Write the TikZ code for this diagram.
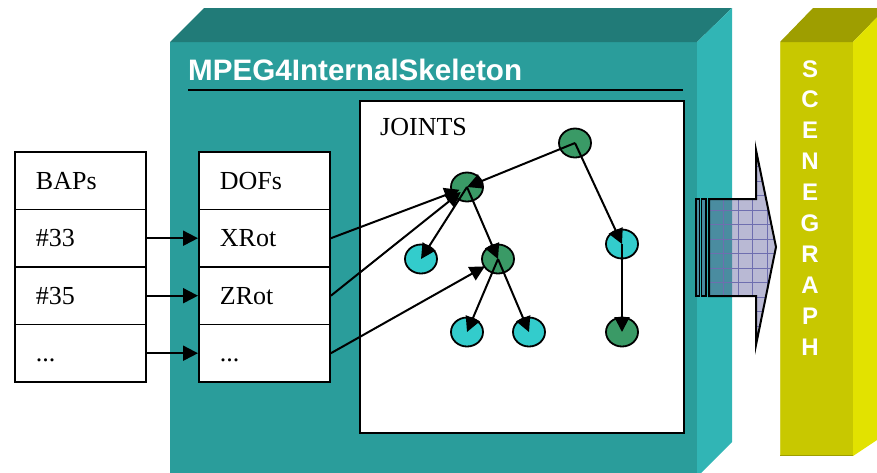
\documentclass[tikz,border=0pt]{standalone}
\usepackage{fontspec}
\setmainfont{Liberation Serif}
\setsansfont{Liberation Sans}
\usetikzlibrary{arrows.meta,shapes.geometric}

\definecolor{tealfront}{RGB}{42,157,155}
\definecolor{tealtop}{RGB}{33,123,120}
\definecolor{tealside}{RGB}{49,181,181}
\definecolor{yelfront}{RGB}{200,200,0}
\definecolor{yeltop}{RGB}{158,158,0}
\definecolor{yelside}{RGB}{226,226,0}
\definecolor{jointgreen}{RGB}{58,154,102}
\definecolor{jointcyan}{RGB}{51,204,204}
\definecolor{arrowlav}{RGB}{185,185,212}
\definecolor{arrowmix}{RGB}{74,140,160}
\definecolor{gridline}{RGB}{110,110,175}

\begin{document}
\begin{tikzpicture}[x=1pt,y=-1pt,
  cell/.style={draw=black, line width=1.9pt, fill=white,
    minimum width=131pt, minimum height=57.5pt,
    text width=89pt, inner xsep=21pt, inner ysep=0pt, align=left,
    text height=17.5pt, text depth=0pt,
    font=\fontsize{26}{30}\selectfont, anchor=north west},
  joint/.style={ellipse, draw=black, line width=1.8pt,
    minimum width=32pt, minimum height=29pt, inner sep=0pt},
  jgreen/.style={joint, fill=jointgreen},
  jcyan/.style={joint, fill=jointcyan},
  link/.style={-{Triangle[length=15pt,width=15pt]}, line width=2pt},
  sceneletter/.style={text=white, inner sep=0pt, anchor=base,
    font=\sffamily\bfseries\fontsize{24}{28}\selectfont}
]
\useasboundingbox (0,0) rectangle (877,472);
\clip (0,0) rectangle (877,472);

% skeleton block (teal box)
\fill[tealfront] (170,42) rectangle (697,480);
\fill[tealtop] (170,42) -- (204,8) -- (732,8) -- (697,42) -- cycle;
\fill[tealside] (697,42) -- (732,8) -- (732,442) -- (697,477) -- cycle;

% scene graph block (yellow box)
\fill[yelfront] (780,42) rectangle (853,456);
\fill[yeltop] (780,42) -- (813,8) -- (886,8) -- (853,42) -- cycle;
\fill[yelside] (853,42) -- (886,8) -- (886,434) -- (853,456) -- cycle;
\draw[yelfront!80!white, line width=1.2pt] (780.6,42) -- (780.6,456);
\draw[yeltop, line width=1.2pt] (780,455.4) -- (853,455.4);

% output arrow into the scene graph
\fill[arrowlav] (709,199) -- (756,199) -- (756,150) -- (776,247) -- (756,345) -- (756,296) -- (709,296) -- cycle;
\begin{scope}
  \clip (700,0) rectangle (732,472);
  \fill[arrowmix] (709,199) rectangle (756,296);
\end{scope}
\begin{scope}
  \clip (709,199) -- (756,199) -- (756,150) -- (776,247) -- (756,345) -- (756,296) -- (709,296) -- cycle;
  \foreach \gx in {723.5,738,752.5,767}
    \draw[gridline, line width=0.6pt] (\gx,140) -- (\gx,350);
  \foreach \gk in {-4,...,9}
    \draw[gridline, line width=0.6pt] (700,{210+14.5*\gk}) -- (780,{210+14.5*\gk});
\end{scope}
\draw[line width=2pt, line join=miter] (709,199) -- (756,199) -- (756,150) -- (776,247) -- (756,345) -- (756,296) -- (709,296) -- cycle;
\draw[fill=arrowmix, line width=1.7pt] (696,199) rectangle (699.5,296);
\draw[fill=arrowmix, line width=1.7pt] (701.5,199) rectangle (706,296);

% SCENEGRAPH lettering
\foreach \c [count=\i] in {S,C,E,N,E,G,R,A,P,H}
  \node[sceneletter] (sg\i) at (810,{77+30.9*(\i-1)}) {\c};

% title and rule
\node[anchor=base west, inner sep=0pt, text=white,
  font=\sffamily\bfseries\fontsize{29.6}{34}\selectfont] (title) at (188,80) {MPEG4InternalSkeleton};
\draw[line width=2pt] (188,90) -- (683,90);

% BAPs table
\node[cell] (baps) at (14,151) {BAPs};
\node[cell] (b33)  at (14,208.5) {\#33};
\node[cell] (b35)  at (14,266) {\#35};
\node[cell] (bdots) at (14,323.5) {...};

% DOFs table
\node[cell] (dofs) at (198,151) {DOFs};
\node[cell] (xrot) at (198,208.5) {XRot};
\node[cell] (zrot) at (198,266) {ZRot};
\node[cell] (ddots) at (198,323.5) {...};

% joints panel
\node[draw=black, line width=2pt, fill=white, minimum width=324pt, minimum height=332pt,
  anchor=north west, inner sep=0pt] (jbox) at (359,100) {};
\node[anchor=base west, inner sep=0pt, font=\fontsize{26}{30}\selectfont] (jlabel) at (380,135) {JOINTS};

% joint hierarchy
\node[jgreen] (jR) at (575,143) {};
\node[jgreen] (jA) at (467,187) {};
\node[jcyan]  (jB) at (421,259) {};
\node[jgreen] (jC) at (498,259) {};
\node[jcyan]  (jD) at (622,244) {};
\node[jcyan]  (jE) at (467,332) {};
\node[jcyan]  (jF) at (529,332) {};
\node[jgreen] (jG) at (622,332) {};

\draw[link] (jR.center) -- (jA.center);
\draw[link] (jR.center) -- (jD.center);
\draw[link] (jA.center) -- (jB.center);
\draw[link] (jA.center) -- (jC.center);
\draw[link] (jC.center) -- (jE.center);
\draw[link] (jC.center) -- (jF.center);
\draw[link] (jD.center) -- (jG.center);

% BAPs drive DOFs
\draw[link] (b33.east) -- (xrot.west);
\draw[link] (b35.east) -- (zrot.west);
\draw[link] (bdots.east) -- (ddots.west);

% DOFs drive joints
\draw[link, shorten >=8pt] (xrot.east) -- (jA.center);
\draw[link, shorten >=8pt] (zrot.east) -- (jA.center);
\draw[link, shorten >=15pt] (ddots.east) -- (jC.center);
\end{tikzpicture}
\end{document}
